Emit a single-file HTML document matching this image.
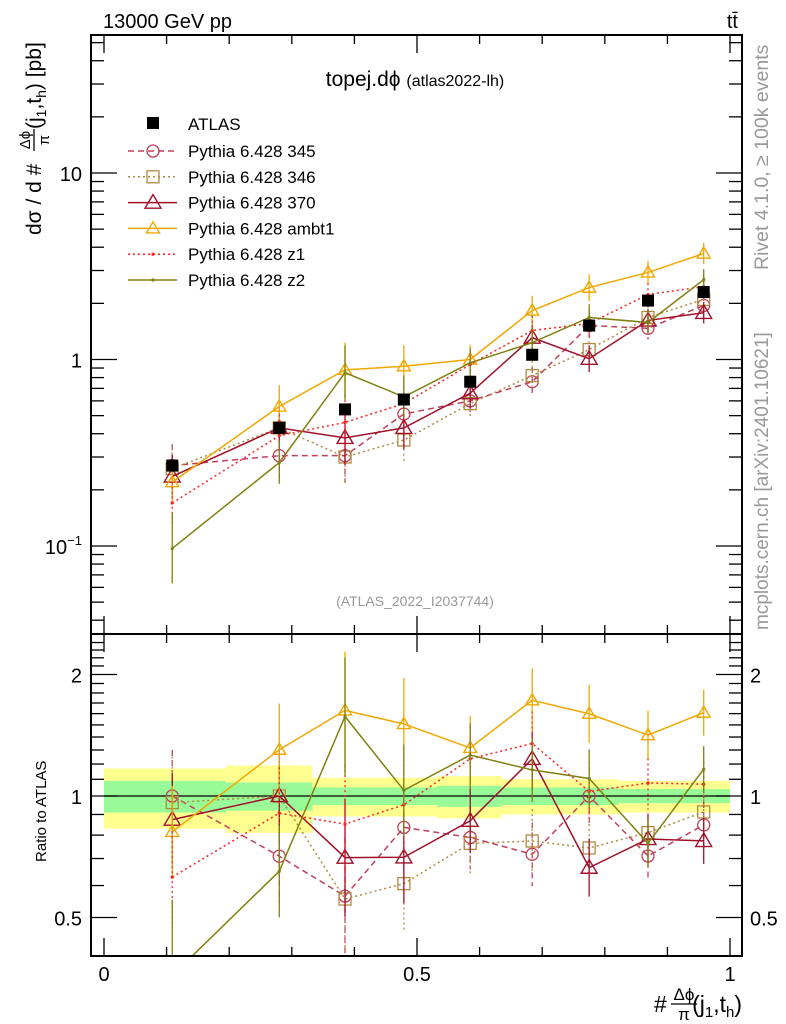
<!DOCTYPE html>
<html><head><meta charset="utf-8"><style>
body{margin:0;background:#fff;}
svg{display:block;font-family:"Liberation Sans",sans-serif;}
</style></head><body>
<svg id="c" width="786" height="1024" viewBox="0 0 786 1024" xmlns="http://www.w3.org/2000/svg">
<text x="103" y="28" font-size="20">13000 GeV pp</text>
<text x="738" y="28" font-size="20" text-anchor="end">tt̄</text>
<text x="415" y="86" font-size="21" text-anchor="middle">topej.dϕ <tspan font-size="16">(atlas2022-lh)</tspan></text>
<text x="415" y="606" font-size="14" fill="#999" text-anchor="middle">(ATLAS_2022_I2037744)</text>
<text transform="translate(768,270) rotate(-90)" font-size="19.5" fill="#999">Rivet 4.1.0, ≥ 100k events</text>
<text transform="translate(768,630) rotate(-90)" font-size="19" fill="#999">mcplots.cern.ch [arXiv:2401.10621]</text>
<g transform="translate(41,235) rotate(-90)">
<text x="0" y="0" font-size="21">dσ / d #</text>
<text x="95" y="-11" font-size="15" text-anchor="middle">Δϕ</text>
<line x1="84" x2="106" y1="-7" y2="-7" stroke="#000" stroke-width="1.3"/>
<text x="95" y="8" font-size="15" text-anchor="middle">π</text>
<text x="106" y="0" font-size="21">(j<tspan font-size="14" dy="5">1</tspan><tspan dy="-5">,t</tspan><tspan font-size="14" dy="5">h</tspan><tspan dy="-5">) [pb]</tspan></text>
</g>
<text transform="translate(46,862) rotate(-90)" font-size="15">Ratio to ATLAS</text>
<g>
<text x="654" y="1012" font-size="23">#</text>
<text x="684" y="1000" font-size="17" text-anchor="middle">Δϕ</text>
<line x1="671" x2="697" y1="1004" y2="1004" stroke="#000" stroke-width="1.3"/>
<text x="684" y="1020" font-size="17" text-anchor="middle">π</text>
<text x="742" y="1012" font-size="23" text-anchor="end">(j<tspan font-size="15" dy="5">1</tspan><tspan dy="-5">,t</tspan><tspan font-size="15" dy="5">h</tspan><tspan dy="-5">)</tspan></text>
</g>
<g id="g"></g>
</svg>
<script>
const xCenters=[0.109,0.280,0.385,0.479,0.585,0.684,0.775,0.869,0.958];
const binEdges=[0,0.195,0.333,0.432,0.532,0.635,0.730,0.822,0.914,1];
const atlas=[0.27,0.43,0.54,0.61,0.76,1.06,1.52,2.07,2.3];
const atlasErr=[0.05,0.05,0.06,0.05,0.06,0.06,0.06,0.07,0.07];
const yellowBand=[0.17,0.19,0.11,0.11,0.12,0.10,0.10,0.09,0.09];
const greenBand=[0.09,0.08,0.05,0.05,0.06,0.05,0.05,0.04,0.04];
const s345=[0.27,0.305,0.305,0.51,0.60,0.76,1.52,1.47,1.95];
const s346=[0.26,0.43,0.30,0.37,0.58,0.82,1.13,1.68,2.1];
const s370=[0.236,0.43,0.38,0.43,0.66,1.31,1.01,1.62,1.78];
const sAmbt1=[0.22,0.56,0.88,0.92,1.0,1.83,2.43,2.93,3.7];
const sZ1=[0.17,0.39,0.46,0.58,0.94,1.43,1.56,2.23,2.46];
const sZ2=[0.097,0.28,0.85,0.63,0.96,1.23,1.68,1.58,2.68];
const relErr=[0.3,0.3,0.4,0.3,0.2,0.2,0.18,0.15,0.14];
const seriesNames=["Pythia 6.428 345","Pythia 6.428 346","Pythia 6.428 370","Pythia 6.428 ambt1","Pythia 6.428 z1","Pythia 6.428 z2"];
const NS="http://www.w3.org/2000/svg";
const g=document.getElementById('g');
function el(t,a,p){const e=document.createElementNS(NS,t);for(const k in a)e.setAttribute(k,a[k]);(p||g).appendChild(e);return e;}
const L=91,R=742,T1=35,B1=634,T2=634,B2=956;
const X=v=>104+626*v;
const Y=v=>173-186.5*(Math.log10(v)-1);
const YR=r=>796-121.5*Math.log2(r);
const styles=[
 {c:"#c0405a",d:"6,4",m:"circle",data:s345},
 {c:"#b08a40",d:"2,3",m:"square",data:s346},
 {c:"#a0102a",d:"",m:"tri",data:s370},
 {c:"#f0a800",d:"",m:"tri",data:sAmbt1},
 {c:"#ff2020",d:"2,3",m:"dot",data:sZ1},
 {c:"#808010",d:"",m:"dot",data:sZ2}];
function marker(m,x,y,c,big,par,nm){
 let e;
 if(m==="circle")e=el('circle',{cx:x,cy:y,r:6,fill:'none',stroke:c,'stroke-width':1.3},par);
 else if(m==="square")e=el('rect',{x:x-6,y:y-6,width:12,height:12,fill:'none',stroke:c,'stroke-width':1.3},par);
 else if(m==="tri"){const s=big?8:6.5;e=el('polygon',{points:`${x},${y-s} ${x-s},${y+s*0.7} ${x+s},${y+s*0.7}`,fill:'none',stroke:c,'stroke-width':1.4},par);}
 else e=el('circle',{cx:x,cy:y,r:1.6,fill:c},par);
 
 
}
const defs=el('defs',{});
const c1=el('clipPath',{id:'cp1'},defs);el('rect',{x:L,y:T1,width:R-L,height:B1-T1},c1);
const c2=el('clipPath',{id:'cp2'},defs);el('rect',{x:L,y:T2,width:R-L,height:B2-T2},c2);
const main=el('g',{'clip-path':'url(#cp1)'});


const rat=el('g',{'clip-path':'url(#cp2)'});


for(let i=0;i<xCenters.length;i++){
 const x0=X(binEdges[i]),x1=X(binEdges[i+1]);
 const yb=el('rect',{x:x0,y:YR(1+yellowBand[i]),width:x1-x0,height:YR(1-yellowBand[i])-YR(1+yellowBand[i]),fill:'#ffff90'},rat);
 
 
 const gb=el('rect',{x:x0,y:YR(1+greenBand[i]),width:x1-x0,height:YR(1-greenBand[i])-YR(1+greenBand[i]),fill:'#98fb98'},rat);
 
 
}
const one=el('line',{x1:X(0),x2:X(1),y1:YR(1),y2:YR(1),stroke:'#000','stroke-width':1.3},rat);


styles.forEach((s,k)=>{
 const pts=s.data.map((v,i)=>[X(xCenters[i]),Y(v)]);
 const rpts=s.data.map((v,i)=>[X(xCenters[i]),YR(v/atlas[i])]);
 [[main,pts,Y],[rat,rpts,YR]].forEach(([par,P,fy],pi)=>{
  const pl=el('polyline',{points:P.map(p=>p.join(',')).join(' '),fill:'none',stroke:s.c,'stroke-width':1.5,'stroke-dasharray':s.d},par);
  
  
  s.data.forEach((v,i)=>{
   const val=pi===0?v:v/atlas[i];
   const e=relErr[i]*(k===5&&i===0?1.8:1);
   const x=X(xCenters[i]);
   const eb=el('line',{x1:x,x2:x,y1:fy(val*(1+e)),y2:fy(val/(1+e)),stroke:s.c,'stroke-width':1.3,'stroke-dasharray':s.d},par);
   
   
   marker(s.m,x,fy(val),s.c,k===2,par,'series-marker-'+k);
  });
 });
});
atlas.forEach((v,i)=>{
 const x=X(xCenters[i]);
 const eb=el('line',{x1:x,x2:x,y1:Y(v*(1+atlasErr[i])),y2:Y(v/(1+atlasErr[i])),stroke:'#000','stroke-width':1.3},main);
 
 
 const r=el('rect',{x:x-6,y:Y(v)-6,width:12,height:12,fill:'#000'},main);
 
 
});
[[T1,B1],[T2,B2]].forEach(([t,b],pi)=>{
 const f=el('rect',{x:L,y:t,width:R-L,height:b-t,fill:'none',stroke:'#000','stroke-width':2});
 
 
 for(let j=0;j<=10;j++){const x=X(j/10),len=j%5===0?18:9;
  el('line',{x1:x,x2:x,y1:b,y2:b-len,stroke:'#000','stroke-width':1.3});
  el('line',{x1:x,x2:x,y1:t,y2:t+len,stroke:'#000','stroke-width':1.3});}
});
for(let d=-2;d<=1;d++)for(let m=1;m<=9;m++){const v=m*Math.pow(10,d),y=Y(v);if(y<T1||y>B1)continue;const len=m===1?26:13;
 el('line',{x1:L,x2:L+len,y1:y,y2:y,stroke:'#000','stroke-width':1.3});el('line',{x1:R,x2:R-len,y1:y,y2:y,stroke:'#000','stroke-width':1.3});}
const yLabels=[["10",10],["1",1]];
yLabels.forEach(([t,v])=>{const e=el('text',{x:82,y:Y(v)+8,'font-size':20,'text-anchor':'end'});e.textContent=t;
 });
const ex=el('text',{x:82,y:Y(0.1)+8,'font-size':20,'text-anchor':'end'});ex.innerHTML='10<tspan font-size="13" dy="-9">−1</tspan>';

for(let r=0.4;r<=2.5;r+=0.1){const y=YR(r);if(y<T2||y>B2)continue;const major=[0.5,1,2].some(q=>Math.abs(q-r)<1e-6);const len=major?26:13;
 el('line',{x1:L,x2:L+len,y1:y,y2:y,stroke:'#000','stroke-width':1.3});el('line',{x1:R,x2:R-len,y1:y,y2:y,stroke:'#000','stroke-width':1.3});}
const ratioTicks=[["2",2],["1",1],["0.5",0.5]];
ratioTicks.forEach(([t,v])=>{[[82,'end'],[750,'start']].forEach(([x,a])=>{const e=el('text',{x:x,y:YR(v)+8,'font-size':20,'text-anchor':a});e.textContent=t;
 });});
const xTicks=[["0",0],["0.5",0.5],["1",1]];
xTicks.forEach(([t,v])=>{const e=el('text',{x:X(v),y:981,'font-size':20,'text-anchor':'middle'});e.textContent=t;
 });
const lg=el('g',{});
const la=el('rect',{x:147,y:117,width:12,height:12,fill:'#000'},lg);
const lt=el('text',{x:188,y:130,'font-size':17},lg);lt.textContent='ATLAS';
styles.forEach((s,k)=>{const y=151+k*25.8;
 const ln=el('line',{x1:128,x2:177,y1:y,y2:y,stroke:s.c,'stroke-width':1.5,'stroke-dasharray':s.d},lg);
 marker(s.m,153,y,s.c,k===2,lg,'legend-marker');
 const t=el('text',{x:188,y:y+6,'font-size':17},lg);t.textContent=seriesNames[k];
 });
</script>
</body></html>
